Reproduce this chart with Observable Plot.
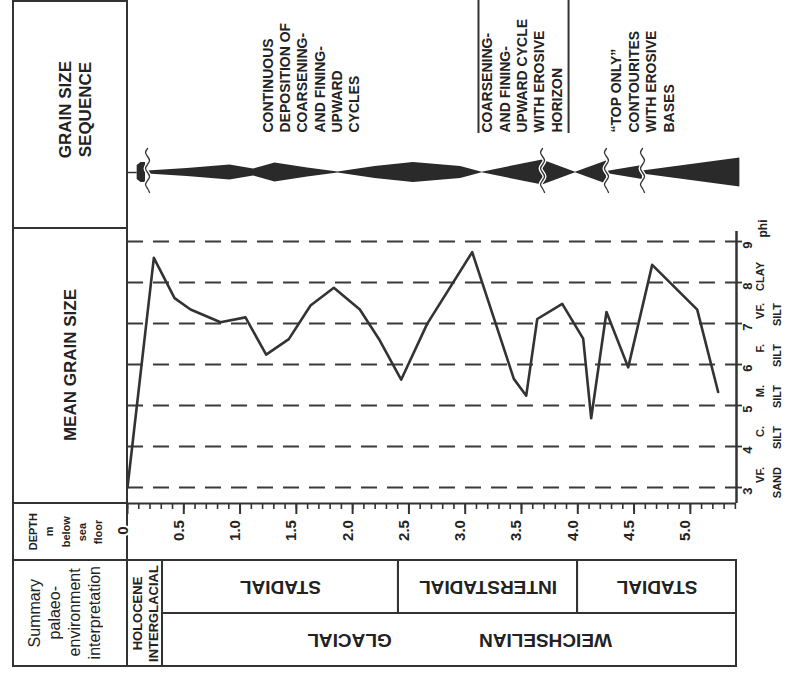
<!DOCTYPE html>
<html><head><meta charset="utf-8">
<script src="https://cdn.jsdelivr.net/npm/d3@7"></script>
<script src="https://cdn.jsdelivr.net/npm/@observablehq/plot@0.6"></script>
<style>
html,body{margin:0;padding:0;background:#fff;}
#fig{position:relative;width:794px;height:678px;overflow:hidden;font-family:"Liberation Sans",Arial,sans-serif;color:#222;}
.box{position:absolute;left:12px;width:116px;box-sizing:border-box;border:2px solid #333;display:flex;align-items:center;justify-content:center;}
.vt{writing-mode:vertical-rl;transform:rotate(180deg);text-align:center;white-space:nowrap;}
#fig svg{position:absolute;left:0;top:0;}
</style></head>
<body><div id="fig">
<div class="box" style="top:0;height:229px;padding-left:12px;padding-bottom:10px"><div class="vt" style="font-weight:bold;font-size:17px;line-height:20px">GRAIN SIZE<br>SEQUENCE</div></div>
<div class="box" style="top:227px;height:277px"><div class="vt" style="font-weight:bold;font-size:17px;line-height:19px">MEAN GRAIN SIZE</div></div>
<div class="box" style="top:502px;height:59px;padding-right:8px"><div class="vt" style="font-weight:bold;font-size:11px;line-height:16.3px">DEPTH<br>m<br>below<br>sea<br>floor</div></div>
<div class="box" style="top:559px;height:108px;padding-right:10px"><div class="vt" style="font-size:16px;line-height:20px">Summary<br>palaeo-<br>environment<br>interpretation</div></div>
</div>
<script>
// ---------- data ----------
const depthM = [0, 0.234, 0.418, 0.56, 0.826, 1.048, 1.232, 1.433, 1.626, 1.833, 2.064, 2.232, 2.431, 2.662, 3.062, 3.432, 3.542, 3.64, 3.862, 4.048, 4.119, 4.255, 4.448, 4.661, 5.061, 5.247];
const meanGrainPhi = [3.0, 8.6, 7.62, 7.34, 7.03, 7.15, 6.24, 6.62, 7.44, 7.87, 7.34, 6.63, 5.63, 6.99, 8.74, 5.65, 5.24, 7.11, 7.48, 6.63, 4.69, 7.28, 5.93, 8.43, 7.34, 5.33];

const phiTicks = [3, 4, 5, 6, 7, 8, 9];
const grainClassMid = [3.5, 4.5, 5.5, 6.5, 7.5, 8.5];
const grainClassLine1 = ["VF.", "C.", "M.", "F.", "VF.", "CLAY"];
const grainClassLine2 = ["SAND", "SILT", "SILT", "SILT", "SILT", ""];

const depthTickValues = [0, 0.5, 1.0, 1.5, 2.0, 2.5, 3.0, 3.5, 4.0, 4.5, 5.0];
const depthTickLabels = ["0", "0.5", "1.0", "1.5", "2.0", "2.5", "3.0", "3.5", "4.0", "4.5", "5.0"];
const depthMinorTicks = d3.range(0, 55).map(i => i / 10);

// grain size sequence (half-thickness of symbol)
const seqUnit = ["H","H","H", "A","A","A","A","A","A","A","A","A","A","A","A", "B","B","B", "C","C", "D","D"];
const seqDepth = [0.086,0.12,0.16, 0.178,0.53,0.91,1.12,1.31,1.6,1.87,2.2,2.54,2.96,3.15,3.687, 3.687,3.98,4.255, 4.255,4.575, 4.575,5.44];
const seqHalf = [7,10,10, 1.5,4,7.5,3.5,9.5,4.5,0.5,6,10,6,0.3,12.5, 12.5,0.3,11.5, 1,7, 1.5,14.5];
const erosionDepths = [0.178, 3.687, 4.255, 4.575];
const bracketDepths = [3.118, 3.918];
const noteDepth = [1.626, 3.50, 4.57];
const noteText = [
  "CONTINUOUS\nDEPOSITION OF\nCOARSENING-\nAND FINING-\nUPWARD\nCYCLES",
  "COARSENING-\nAND FINING-\nUPWARD CYCLE\nWITH EROSIVE\nHORIZON",
  "\u201CTOP ONLY\u201D\nCONTOURITES\nWITH EROSIVE\nBASES"
];

// palaeo-environment interpretation
const stageNames = ["STADIAL", "INTERSTADIAL", "STADIAL"];
const stageStart = [0.311, 2.407, 3.998];
const stageEnd = [2.407, 3.998, 5.41];
const holoceneSpan = [0, 0.311];
const periodSpan = [0.311, 5.41];
const periodWords = ["GLACIAL", "WEICHSELIAN"];
const periodWordDepth = [1.972, 3.713];

// ---------- build ----------
(function () {
const ink = "#333";
const txt = "#222";
const font = "'Liberation Sans', Arial, sans-serif";
const narrow = "'Liberation Sans Narrow', 'Liberation Sans', Arial, sans-serif";
const xDomain = [0, 5.41];
const pxPerM = 609 / 5.41;
const base = {width: 794, height: 678, marginLeft: 127, marginRight: 58,
  style: {background: "transparent", overflow: "visible"}};

const fig = document.getElementById("fig");

// main chart
const series = depthM.map((d, i) => ({depth: d, phi: meanGrainPhi[i]}));
const classes = grainClassMid.map((m, i) => ({mid: m, a: grainClassLine1[i], b: grainClassLine2[i]}));
const depthLabels = depthTickValues.map((v, i) => ({v, t: depthTickLabels[i]}));
const yDomain = [2.61, 9.244];
const phiPerPx = (yDomain[1] - yDomain[0]) / 272;

const mainChart = Plot.plot({...base, marginTop: 231, marginBottom: 175,
  x: {domain: xDomain, axis: null}, y: {domain: yDomain, axis: null},
  marks: [
    Plot.ruleY(phiTicks, {y: d => d, stroke: "#3a3a3a", strokeWidth: 2, strokeDasharray: "16,10"}),
    Plot.ruleX([xDomain[1]], {stroke: ink, strokeWidth: 2.5}),
    Plot.ruleY([yDomain[0]], {stroke: ink, strokeWidth: 2}),
    Plot.ruleX(depthMinorTicks, {x: d => d, y1: yDomain[0], y2: yDomain[0] - 6 * phiPerPx, stroke: ink, strokeWidth: 1.6}),
    Plot.ruleX(depthTickValues, {x: d => d, y1: yDomain[0], y2: yDomain[0] - 11 * phiPerPx, stroke: ink, strokeWidth: 2}),
    Plot.text(depthLabels, {x: "v", text: "t", frameAnchor: "bottom", dy: 27, rotate: -90,
      fontSize: 15, fontWeight: "bold", fontFamily: font, fill: txt, stroke: "white", strokeWidth: 4, paintOrder: "stroke"}),
    Plot.axisY({anchor: "right", ticks: phiTicks, tickSize: 5, tickFormat: () => "", label: null, stroke: ink, strokeWidth: 1.8}),
    Plot.text(phiTicks, {y: d => d, text: d => String(d), frameAnchor: "right", dx: 11, rotate: -90,
      fontSize: 13, fontWeight: "bold", fontFamily: font, fill: txt}),
    Plot.text(classes, {y: "mid", text: "a", frameAnchor: "right", dx: 24, rotate: -90,
      fontSize: 11, fontWeight: "bold", fontFamily: narrow, fill: txt}),
    Plot.text(classes, {y: "mid", text: "b", frameAnchor: "right", dx: 41, rotate: -90,
      fontSize: 11, fontWeight: "bold", fontFamily: narrow, fill: txt}),
    Plot.text(["phi"], {frameAnchor: "top-right", dx: 22, dy: -12, rotate: -90,
      fontSize: 12, fontWeight: "bold", fontFamily: narrow, fill: txt}),
    Plot.line(series, {x: "depth", y: "phi", stroke: "#333", strokeWidth: 2.6})
  ]});
fig.appendChild(mainChart);

// grain size sequence
const seq = seqDepth.map((d, i) => ({unit: seqUnit[i], depth: d, hw: seqHalf[i]}));
const waveTemplate = [[0,24],[-2,20],[0,16],[2,12],[0,8],[-2,4],[0,0],[2,-4],[0,-8],[-2,-12],[0,-16],[2,-20]];
const waves = erosionDepths.flatMap((d, i) => waveTemplate.map(([dx, dy]) => ({i, x: d + dx / pxPerM, y: dy})));
const notes = noteDepth.map((d, i) => ({depth: d, t: noteText[i]}));

const seqChart = Plot.plot({...base, marginTop: 0, marginBottom: 450,
  x: {domain: xDomain, axis: null}, y: {domain: [-56, 172], axis: null},
  marks: [
    Plot.ruleY([0], {x1: 0, x2: seqDepth[0], stroke: ink, strokeWidth: 1.5}),
    Plot.areaY(seq, {x: "depth", y1: d => -d.hw, y2: d => d.hw, z: "unit", fill: "#2a2a2a"}),
    Plot.line(waves, {x: "x", y: "y", z: "i", stroke: "white", strokeWidth: 4, curve: "natural"}),
    Plot.line(waves, {x: "x", y: "y", z: "i", stroke: ink, strokeWidth: 1.3, curve: "natural"}),
    Plot.ruleX(bracketDepths, {x: d => d, y1: 39, y2: 172, stroke: ink, strokeWidth: 2}),
    Plot.text(notes, {x: "depth", y: 40, text: "t", rotate: -90, textAnchor: "start", lineAnchor: "middle",
      lineHeight: 1.24, fontSize: 14, fontWeight: "bold", fontFamily: font, fill: txt})
  ]});
fig.appendChild(seqChart);

// interpretation table
const stages = stageNames.map((s, i) => ({s, x1: stageStart[i], x2: stageEnd[i]}));
const words = periodWords.map((w, i) => ({w, x: periodWordDepth[i]}));
const tableChart = Plot.plot({...base, marginTop: 560, marginBottom: 12,
  x: {domain: xDomain, axis: null}, y: {domain: [0, 2], reverse: true, axis: null},
  marks: [
    Plot.rect(stages, {x1: "x1", x2: "x2", y1: 0, y2: 1, stroke: ink, strokeWidth: 2, fill: "none"}),
    Plot.rect([periodSpan], {x1: d => d[0], x2: d => d[1], y1: 1, y2: 2, stroke: ink, strokeWidth: 2, fill: "none"}),
    Plot.rect([holoceneSpan], {x1: d => d[0], x2: d => d[1], y1: 0, y2: 2, stroke: ink, strokeWidth: 2, fill: "none"}),
    Plot.text(stages, {x: d => (d.x1 + d.x2) / 2, y: 0.5, text: "s", rotate: 180,
      fontSize: 19, fontWeight: "bold", fontFamily: font, fill: txt}),
    Plot.text(words, {x: "x", y: 1.5, text: "w", rotate: 180,
      fontSize: 19, fontWeight: "bold", fontFamily: font, fill: txt}),
    Plot.text([holoceneSpan], {x: d => (d[0] + d[1]) / 2, y: 1, text: () => "HOLOCENE\nINTERGLACIAL", rotate: -90,
      lineHeight: 1.2, fontSize: 13, fontWeight: "bold", fontFamily: font, fill: txt})
  ]});
fig.appendChild(tableChart);
})();
</script>
</body></html>
